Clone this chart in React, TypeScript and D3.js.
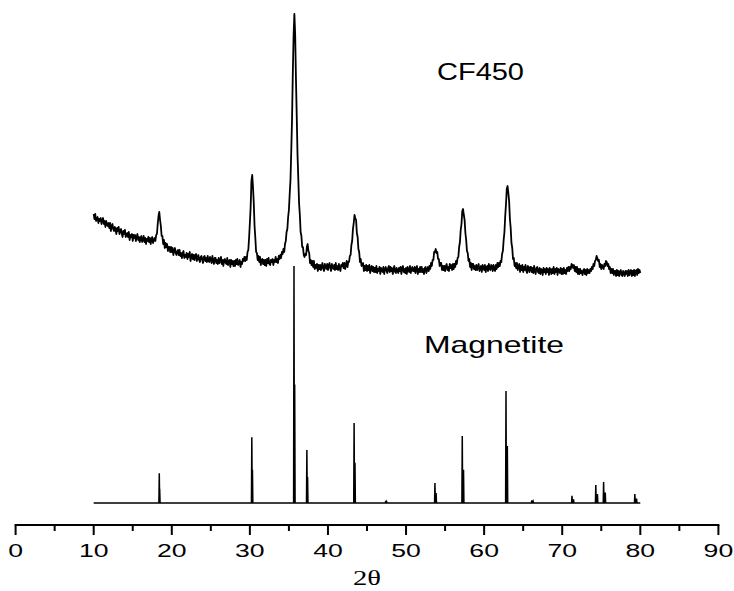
import React from 'react'
import * as d3 from 'd3'

// CF450 pattern, 2θ from 10° to 80° every 0.1° (intensity, a.u.)
const cf450Start = 10
const cf450Step = 0.1
const cf450Intensity = [
  66, 61, 66, 59, 61, 63, 57, 61, 59, 62,
  56, 60, 62, 56, 59, 53, 59, 56, 54, 57,
  52, 57, 49, 54, 56, 51, 49, 53, 51, 46,
  52, 49, 53, 46, 49, 51, 46, 43, 49, 46,
  50, 43, 45, 47, 43, 48, 40, 45, 43, 46,
  39, 45, 42, 45, 39, 43, 46, 40, 43, 38,
  42, 44, 38, 40, 44, 38, 42, 36, 41, 39,
  43, 38, 42, 36, 41, 43, 37, 40, 42, 39,
  45, 46, 56, 64, 68, 60, 54, 44, 44, 36,
  40, 32, 37, 33, 36, 29, 33, 33, 28, 33,
  28, 32, 25, 30, 32, 27, 25, 29, 30, 25,
  30, 24, 27, 22, 27, 29, 22, 25, 23, 27,
  21, 26, 23, 28, 19, 24, 26, 21, 25, 20,
  25, 26, 19, 22, 25, 20, 18, 23, 24, 20,
  17, 23, 24, 19, 22, 18, 24, 19, 18, 23,
  21, 17, 24, 19, 16, 22, 22, 17, 20, 16,
  22, 17, 19, 23, 16, 20, 14, 20, 21, 17,
  16, 22, 15, 19, 20, 13, 20, 16, 19, 14,
  19, 14, 20, 16, 21, 15, 17, 20, 13, 18,
  16, 21, 19, 23, 19, 23, 20, 28, 30, 42,
  57, 73, 99, 105, 93, 77, 54, 42, 28, 27,
  20, 24, 18, 23, 15, 20, 21, 16, 20, 15,
  20, 14, 21, 17, 22, 16, 15, 20, 18, 21,
  15, 20, 18, 23, 18, 21, 17, 24, 21, 25,
  22, 28, 26, 31, 28, 36, 39, 48, 51, 63,
  70, 86, 100, 129, 161, 207, 245, 266, 246, 202,
  165, 126, 102, 77, 65, 48, 44, 33, 33, 25,
  23, 26, 25, 33, 36, 29, 27, 17, 20, 15,
  19, 13, 19, 11, 15, 12, 16, 9, 15, 11,
  15, 10, 14, 17, 11, 9, 16, 13, 11, 16,
  10, 15, 17, 12, 9, 16, 13, 11, 15, 10,
  17, 11, 14, 10, 16, 12, 9, 15, 14, 17,
  12, 17, 11, 15, 19, 13, 18, 18, 24, 25,
  35, 39, 51, 57, 65, 62, 60, 47, 43, 31,
  28, 18, 21, 14, 15, 17, 9, 14, 10, 15,
  9, 14, 10, 15, 7, 12, 14, 9, 13, 8,
  12, 8, 14, 7, 11, 9, 13, 6, 12, 10,
  8, 13, 6, 11, 13, 9, 7, 12, 14, 8,
  13, 9, 12, 6, 11, 14, 8, 7, 12, 10,
  7, 12, 9, 13, 6, 12, 14, 8, 11, 7,
  12, 6, 13, 10, 8, 14, 7, 11, 13, 9,
  9, 13, 7, 12, 14, 6, 11, 8, 13, 8,
  13, 8, 11, 6, 12, 13, 7, 10, 13, 9,
  14, 11, 17, 14, 20, 20, 28, 28, 31, 27,
  28, 21, 21, 14, 17, 17, 10, 14, 10, 14,
  9, 14, 16, 10, 13, 9, 16, 12, 15, 10,
  16, 11, 16, 13, 19, 16, 22, 23, 33, 38,
  50, 56, 69, 71, 65, 60, 47, 40, 29, 27,
  19, 21, 13, 17, 10, 16, 16, 11, 14, 10,
  15, 10, 13, 16, 9, 11, 14, 8, 15, 12,
  10, 15, 8, 13, 14, 9, 16, 11, 10, 15,
  14, 9, 15, 11, 9, 15, 11, 17, 13, 17,
  14, 19, 18, 26, 29, 40, 48, 64, 76, 91,
  94, 87, 79, 61, 52, 37, 32, 21, 22, 14,
  17, 12, 17, 10, 14, 16, 8, 14, 10, 15,
  8, 13, 10, 15, 9, 7, 14, 12, 8, 13,
  13, 8, 12, 7, 14, 9, 6, 12, 13, 8,
  7, 12, 6, 11, 10, 5, 12, 8, 11, 6,
  12, 8, 11, 5, 12, 10, 6, 11, 7, 13,
  6, 11, 8, 12, 5, 11, 10, 7, 12, 6,
  11, 6, 12, 7, 10, 6, 12, 9, 13, 9,
  13, 11, 16, 15, 12, 15, 9, 13, 8, 13,
  6, 11, 6, 11, 7, 9, 5, 10, 11, 6,
  10, 5, 11, 7, 10, 7, 11, 9, 13, 11,
  16, 14, 19, 20, 24, 22, 19, 20, 13, 16,
  11, 15, 13, 11, 16, 14, 19, 18, 14, 16,
  11, 13, 7, 11, 7, 11, 5, 9, 9, 4,
  10, 5, 9, 4, 8, 10, 5, 4, 9, 7,
  4, 9, 6, 9, 4, 10, 5, 8, 10, 4,
  9, 5, 10, 4, 9, 10, 5, 11, 7, 10,
  7
]

// magnetite reference: [2θ Kα1, I (%), 2θ Kα2, I (%)]
const magnetiteLines = [
  [18.4, 12.5, 18.45, 6],
  [30.25, 27.7, 30.33, 14],
  [35.65, 100, 35.74, 50],
  [37.3, 22.4, 37.39, 11],
  [43.35, 33.8, 43.46, 17],
  [47.4, 0.9, 47.52, 0.5],
  [53.7, 8.4, 53.85, 4.2],
  [57.2, 28.3, 57.36, 14],
  [62.8, 47.3, 62.97, 24],
  [66.1, 1.1, 66.28, 0.6],
  [71.25, 3, 71.45, 1.5],
  [74.3, 7.6, 74.51, 3.8],
  [75.3, 8.9, 75.51, 4.4],
  [79.3, 3.8, 79.52, 1.9]
]
const magnetiteRange = [10, 80]

const xTicks = [0, 10, 20, 30, 40, 50, 60, 70, 80, 90]
const xMinorTicks = [5, 15, 25, 35, 45, 55, 65, 75, 85]

const W = 734
const H = 591
const axisY = 525

export default function App () {
  const x = d3.scaleLinear().domain([0, 90]).range([15.6, 718.4])
  const yCF = d3.scaleLinear().domain([0, 266]).range([280, 14])
  const yMag = d3.scaleLinear().domain([0, 100]).range([503, 266])

  const cfPoints: [number, number][] = cf450Intensity.map((v, i) => [cf450Start + i * cf450Step, v])
  const cfLine = d3.line<[number, number]>()
    .x(d => x(d[0]))
    .y(d => yCF(d[1]))

  const w = 0.05
  const magPoints: [number, number][] = [[magnetiteRange[0], 0]]
  magnetiteLines.forEach(([a1, i1, a2, i2]) => {
    magPoints.push([a1 - w, 0], [a1, i1], [a1 + w, 0])
    magPoints.push([a2 - w, 0], [a2, i2], [a2 + w, 0])
  })
  magPoints.push([magnetiteRange[1], 0])
  const magLine = d3.line<[number, number]>()
    .x(d => x(d[0]))
    .y(d => yMag(d[1]))

  const sans = 'Arial, "Liberation Sans", Helvetica, sans-serif'

  return (
    <svg width={W} height={H} style={{ position: 'absolute', left: 0, top: 0, background: '#fff' }}>
      <path d={cfLine(cfPoints) || ''} fill='none' stroke='#000' strokeWidth={1.8} strokeLinejoin='round' />
      <path d={magLine(magPoints) || ''} fill='none' stroke='#000' strokeWidth={1.5} />

      <text x={437} y={80} fontFamily={sans} fontSize={24} textLength={87} lengthAdjust='spacingAndGlyphs'>CF450</text>
      <text x={424} y={353} fontFamily={sans} fontSize={24} textLength={140} lengthAdjust='spacingAndGlyphs'>Magnetite</text>

      <g stroke='#000' strokeWidth={2}>
        <line x1={x(0) - 1} x2={x(90) + 1} y1={axisY} y2={axisY} />
        {xTicks.map(t => (
          <line key={t} x1={x(t)} x2={x(t)} y1={axisY} y2={axisY + 10} />
        ))}
        {xMinorTicks.map(t => (
          <line key={t} x1={x(t)} x2={x(t)} y1={axisY} y2={axisY + 6} />
        ))}
      </g>
      {xTicks.map(t => (
        <text key={t} transform={`translate(${x(t)},557) scale(1.4,1)`} textAnchor='middle'
          fontFamily={sans} fontSize={19}>{t}</text>
      ))}
      <text transform={`translate(367,585) scale(1.3,1)`} textAnchor='middle'
        fontFamily='"Times New Roman", "Liberation Serif", "DejaVu Serif", serif' fontSize={22}>2θ</text>
    </svg>
  )
}
